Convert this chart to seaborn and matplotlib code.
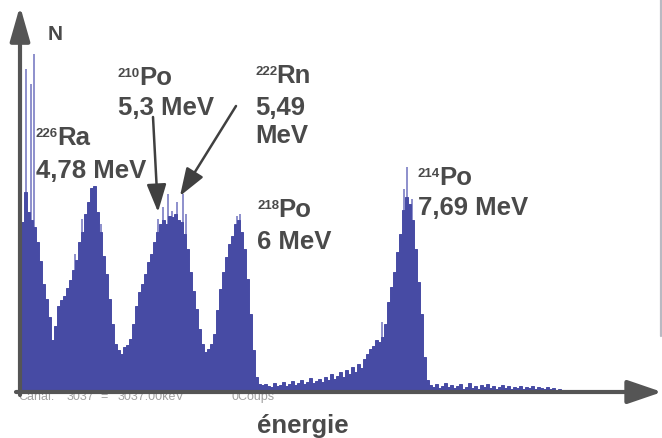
import numpy as np
import pandas as pd
import matplotlib
matplotlib.use("Agg")
import matplotlib.pyplot as plt
import seaborn as sns

# spectrum: one value every 3 channels, starting at channel 22
start_channel = 22
counts = [170, 200, 180, 172, 165, 150, 131, 108, 93, 75,
          52, 66, 86, 92, 96, 104, 112, 122, 132, 150,
          160, 178, 190, 204, 206, 180, 160, 136, 118, 93,
          68, 48, 42, 38, 45, 47, 53, 68, 86, 100,
          108, 118, 130, 138, 150, 160, 168, 172, 168, 176,
          175, 178, 172, 170, 158, 143, 120, 101, 83, 63,
          48, 40, 43, 48, 58, 82, 103, 120, 135, 148,
          156, 168, 172, 160, 143, 113, 78, 42, 15, 8,
          7, 8, 6, 5, 9, 6, 7, 10, 6, 8,
          11, 7, 9, 12, 8, 10, 14, 9, 11, 13,
          10, 15, 12, 18, 13, 16, 20, 15, 22, 18,
          25, 20, 28, 24, 33, 38, 43, 46, 52, 50,
          55, 68, 90, 105, 120, 140, 158, 182, 195, 188,
          172, 143, 110, 78, 35, 12, 7, 5, 8, 4,
          6, 9, 5, 7, 4, 6, 8, 3, 5, 9,
          4, 6, 3, 7, 5, 8, 4, 6, 3, 5,
          7, 4, 6, 3, 5, 4, 6, 3, 5, 4,
          6, 3, 5, 4, 3, 5, 3, 4, 2, 3]

# thin isolated spikes on top of the peaks
spike_channel = [26, 31, 34, 75, 82, 101, 158, 163, 168, 172, 177, 183, 186,
                 237, 240, 382, 386, 404, 407, 412]
spike_counts = [323, 308, 338, 138, 173, 168, 173, 185, 198, 181, 190, 198, 178,
                176, 178, 70, 63, 203, 225, 193]

# peak labels: isotope mass, symbol, energy text
labels = [
    ("226", "Ra", "4,78 MeV"),
    ("210", "Po", "5,3 MeV"),
    ("222", "Rn", "5,49\nMeV"),
    ("218", "Po", "6 MeV"),
    ("214", "Po", "7,69 MeV"),
]

channels = start_channel + 3 * np.arange(len(counts))
df = pd.DataFrame({"canal": channels, "N": counts})

sns.set_theme(style="white")
plt.rcParams['font.family'] = ['Liberation Sans', 'DejaVu Sans']

fig = plt.figure(figsize=(6.62, 4.39), dpi=100)
ax = fig.add_axes([0, 0, 1, 1])

blue = "#474ba4"
sns.histplot(data=df, x="canal", weights="N", binwidth=3,
             binrange=(start_channel - 1.5, channels[-1] + 1.5),
             color=blue, alpha=1, edgecolor=blue, linewidth=0.7,
             ax=ax, zorder=3)
# spikes sit behind the bulk so only their tips show
ax.vlines(spike_channel, 0, spike_counts, color="#6f72bf", lw=1.1, zorder=2)

ax.set_xlim(0, 662)
ax.set_ylim(-46, 393)
ax.axis("off")

grey = "#555555"
# axes drawn as arrows
ax.annotate("", xy=(662, 0), xytext=(16, 0),
            arrowprops=dict(arrowstyle="-|>,head_length=1.05,head_width=0.36",
                            mutation_scale=20, lw=3, color=grey,
                            shrinkA=0, shrinkB=0), zorder=5)
ax.annotate("", xy=(20, 386), xytext=(20, -3),
            arrowprops=dict(arrowstyle="-|>,head_length=1.05,head_width=0.3",
                            mutation_scale=20, lw=3, color=grey,
                            shrinkA=0, shrinkB=0), zorder=5)

# right scan border
ax.plot([661, 661], [393, 56], color="#b9b9c2", lw=1.6, zorder=1)

# leftover software caption, half hidden under the axis
for x, s in [(18, "Canal:"), (67, "3037"), (100, "="), (118, "3037.00keV"), (232, "0Coups")]:
    ax.text(x, -7, s, fontsize=9, color="#a0a0a0", va="baseline", zorder=4)

txt = "#4a4a4a"
big = dict(fontsize=18.5, fontweight="bold", color=txt, va="baseline", zorder=6)
small = dict(fontsize=9.5, fontweight="bold", color=txt, va="baseline", zorder=6)

ax.text(48, 393 - 40, "N", fontsize=15, fontweight="bold", color=txt, va="baseline")

# (x of mass number, baseline of symbol, baseline of energy)
spots = [(36, 145, 178), (118, 85, 115), (255, 83, 115),
         (257, 217, 249), (418, 185, 215)]
for (mass, sym, energy), (xm, yb, ye) in zip(labels, spots):
    ax.text(xm, 393 - yb + 8, mass, **small)
    ax.text(xm + 21, 393 - yb, sym, **big)
    for i, line in enumerate(energy.split("\n")):
        ax.text(xm, 393 - ye - 28 * i, line, **big)

# pointer arrows to the two close peaks
for tip, tail in [((158, 213), (153, 118)), ((180, 197), (236, 107))]:
    ax.annotate("", xy=(tip[0], 393 - tip[1]), xytext=(tail[0], 393 - tail[1]),
                arrowprops=dict(arrowstyle="-|>,head_length=0.85,head_width=0.3",
                                mutation_scale=20, lw=1.8, color="#404040",
                                shrinkA=0, shrinkB=0), zorder=6)

ax.text(303, 393 - 433, "énergie", ha="center", **big)

fig.savefig("out.png", dpi=100)
